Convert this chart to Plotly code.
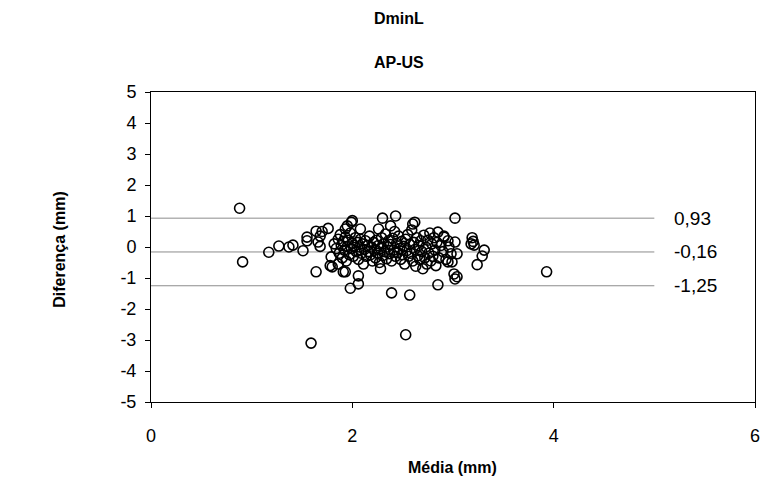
import plotly.graph_objects as go

# Bland-Altman data: mean of the two methods (mm) and their difference (mm)
media = [
    0.88, 0.91, 1.17, 1.27, 1.37, 1.41, 1.51, 1.55, 1.55, 1.64, 1.64, 1.66, 1.68, 1.68,
    1.70, 1.76, 1.59, 2.53, 3.93, 2.39, 2.57, 2.85, 1.98, 2.06, 2.06, 3.02, 3.01, 3.02,
    2.30, 2.43, 2.00, 1.93, 1.91, 1.80, 1.86, 1.79, 1.78, 2.28, 2.99, 3.02, 2.91, 2.85,
    2.60, 2.62, 2.26, 2.38, 2.08, 1.93, 1.95, 1.99, 3.19, 3.20, 3.18, 3.21, 3.31, 3.29,
    3.24, 3.04, 3.04, 2.96, 2.98, 2.91, 2.95,
    1.82, 1.84, 1.86, 1.87, 1.88, 1.89, 1.90, 1.91, 1.92, 1.93, 1.94, 1.95, 1.96, 1.97,
    1.98, 1.99, 2.00, 2.01, 2.02, 2.03, 2.04, 2.05, 2.06, 2.07, 2.08, 2.09, 2.10, 2.11,
    2.12, 2.13, 2.14, 2.15, 2.16, 2.17, 2.18, 2.19, 2.20, 2.21, 2.22, 2.23, 2.24, 2.25,
    2.26, 2.27, 2.28, 2.29, 2.30, 2.31, 2.32, 2.33, 2.34, 2.35, 2.36, 2.37, 2.38, 2.39,
    2.40, 2.41, 2.42, 2.43, 2.44, 2.45, 2.46, 2.47, 2.48, 2.49, 2.50, 2.51, 2.52, 2.53,
    2.54, 2.55, 2.56, 2.57, 2.58, 2.59, 2.60, 2.61, 2.62, 2.63, 2.64, 2.65, 2.66, 2.67,
    2.68, 2.69, 2.70, 2.71, 2.72, 2.73, 2.74, 2.75, 2.76, 2.77, 2.78, 2.79, 2.80, 2.81,
    2.82, 2.83, 2.84, 2.86, 2.88, 2.90, 2.93, 2.95,
]
diferenca = [
    1.25, -0.48, -0.17, 0.03, 0.00, 0.06, -0.12, 0.32, 0.20, 0.51, -0.80, 0.16, 0.35, 0.02,
    0.50, 0.60, -3.10, -2.83, -0.80, -1.48, -1.55, -1.22, -1.33, -1.19, -0.93, -1.03, -0.87, 0.93,
    0.93, 1.00, 0.85, -0.80, -0.80, -0.64, -0.55, -0.32, -0.60, -0.70, -0.48, 0.16, 0.35, 0.48,
    0.74, 0.80, 0.58, 0.68, 0.58, 0.58, 0.68, 0.80, 0.30, 0.18, 0.10, 0.06, -0.10, -0.29,
    -0.57, -0.22, -0.96, 0.00, -0.22, 0.32, -0.48,
    0.10, -0.05, 0.25, -0.20, 0.40, 0.05, -0.35, 0.18, -0.10, 0.32, -0.45, 0.02, 0.22, -0.25,
    0.45, -0.05, 0.12, -0.30, 0.05, 0.30, -0.15, 0.15, -0.40, 0.00, 0.25, -0.20, 0.10, -0.55,
    -0.08, 0.20, -0.30, 0.05, -0.15, 0.35, -0.25, 0.00, -0.45, 0.15, -0.10, -0.35, 0.22, -0.20,
    0.05, -0.50, -0.05, 0.30, -0.28, 0.10, -0.15, 0.42, -0.38, 0.00, 0.20, -0.22, 0.08, -0.45,
    0.28, -0.10, 0.50, -0.30, 0.12, -0.18, 0.35, -0.05, -0.40, 0.18, -0.25, 0.02, -0.55, 0.25,
    -0.12, 0.40, -0.30, 0.08, -0.20, 0.55, -0.45, 0.15, -0.08, -0.62, 0.30, -0.28, 0.05, -0.40,
    0.20, -0.15, -0.70, 0.38, -0.35, 0.00, -0.55, 0.22, -0.20, 0.45, -0.45, 0.10, -0.30, 0.30,
    -0.10, -0.60, 0.15, -0.35, 0.05, -0.15, -0.40, 0.20,
]

# Mean difference and limits of agreement
limites = [0.93, -0.16, -1.25]
limites_txt = ["0,93", "-0,16", "-1,25"]
linha_x = [0, 5]

x_ticks = [0, 2, 4, 6]
y_ticks = list(range(-5, 6))

FONT = "Liberation Sans, Arial, sans-serif"

W, H = 769, 491
ML, MR, MT, MB = 151, 9, 92, 89

fig = go.Figure()

for v in limites:
    fig.add_trace(go.Scatter(
        x=linha_x, y=[v, v], mode="lines",
        line=dict(color="#8c8c8c", width=1),
        hoverinfo="skip", showlegend=False,
    ))

fig.add_trace(go.Scatter(
    x=media, y=diferenca, mode="markers",
    marker=dict(symbol="circle-open", size=10, color="black",
                line=dict(color="black", width=1.6)),
    showlegend=False,
))

# pixel -> paper coordinate helpers for title placement
pw = W - ML - MR
ph = H - MT - MB
def px_x(p):
    return (p - ML) / pw
def px_y(p):
    return (H - MB - p) / ph

for v, t in zip(limites, limites_txt):
    fig.add_annotation(x=5.18, y=v, text=t, xref="x", yref="y",
                       xanchor="left", yanchor="middle", showarrow=False,
                       font=dict(family=FONT, size=19, color="black"))

titulo_font = dict(family=FONT, size=16, color="black")
fig.add_annotation(x=px_x(401), y=px_y(19), xref="paper", yref="paper", text="<b>DminL</b>",
                   showarrow=False, xanchor="center", yanchor="middle", font=titulo_font)
fig.add_annotation(x=px_x(401), y=px_y(62), xref="paper", yref="paper", text="<b>AP-US</b>",
                   showarrow=False, xanchor="center", yanchor="middle", font=titulo_font)
fig.add_annotation(x=px_x(455), y=px_y(467), xref="paper", yref="paper", text="<b>Média (mm)</b>",
                   showarrow=False, xanchor="center", yanchor="middle", font=titulo_font)
fig.add_annotation(x=px_x(58), y=px_y(250), xref="paper", yref="paper", text="<b>Diferença (mm)</b>",
                   showarrow=False, xanchor="center", yanchor="middle", textangle=-90,
                   font=titulo_font)

fig.update_layout(
    width=W, height=H,
    margin=dict(l=ML, r=MR, t=MT, b=MB),
    paper_bgcolor="white", plot_bgcolor="white",
    font=dict(family=FONT, size=17, color="black"),
)

fig.update_xaxes(
    range=[0, 6], tickvals=x_ticks, ticktext=[str(v) for v in x_ticks],
    showgrid=False, zeroline=False, showline=True, linecolor="black", linewidth=1,
    mirror=True, ticks="outside", ticklen=5, tickcolor="black",
    ticklabelstandoff=12,
    tickfont=dict(family=FONT, size=18, color="black"),
)
fig.update_yaxes(
    range=[-5, 5], tickvals=y_ticks, ticktext=[str(v) for v in y_ticks],
    showgrid=False, zeroline=False, showline=True, linecolor="black", linewidth=1,
    mirror=True, ticks="outside", ticklen=5, tickcolor="black",
    ticklabelstandoff=5,
    tickfont=dict(family=FONT, size=18, color="black"),
)

fig.write_html("out.html")
